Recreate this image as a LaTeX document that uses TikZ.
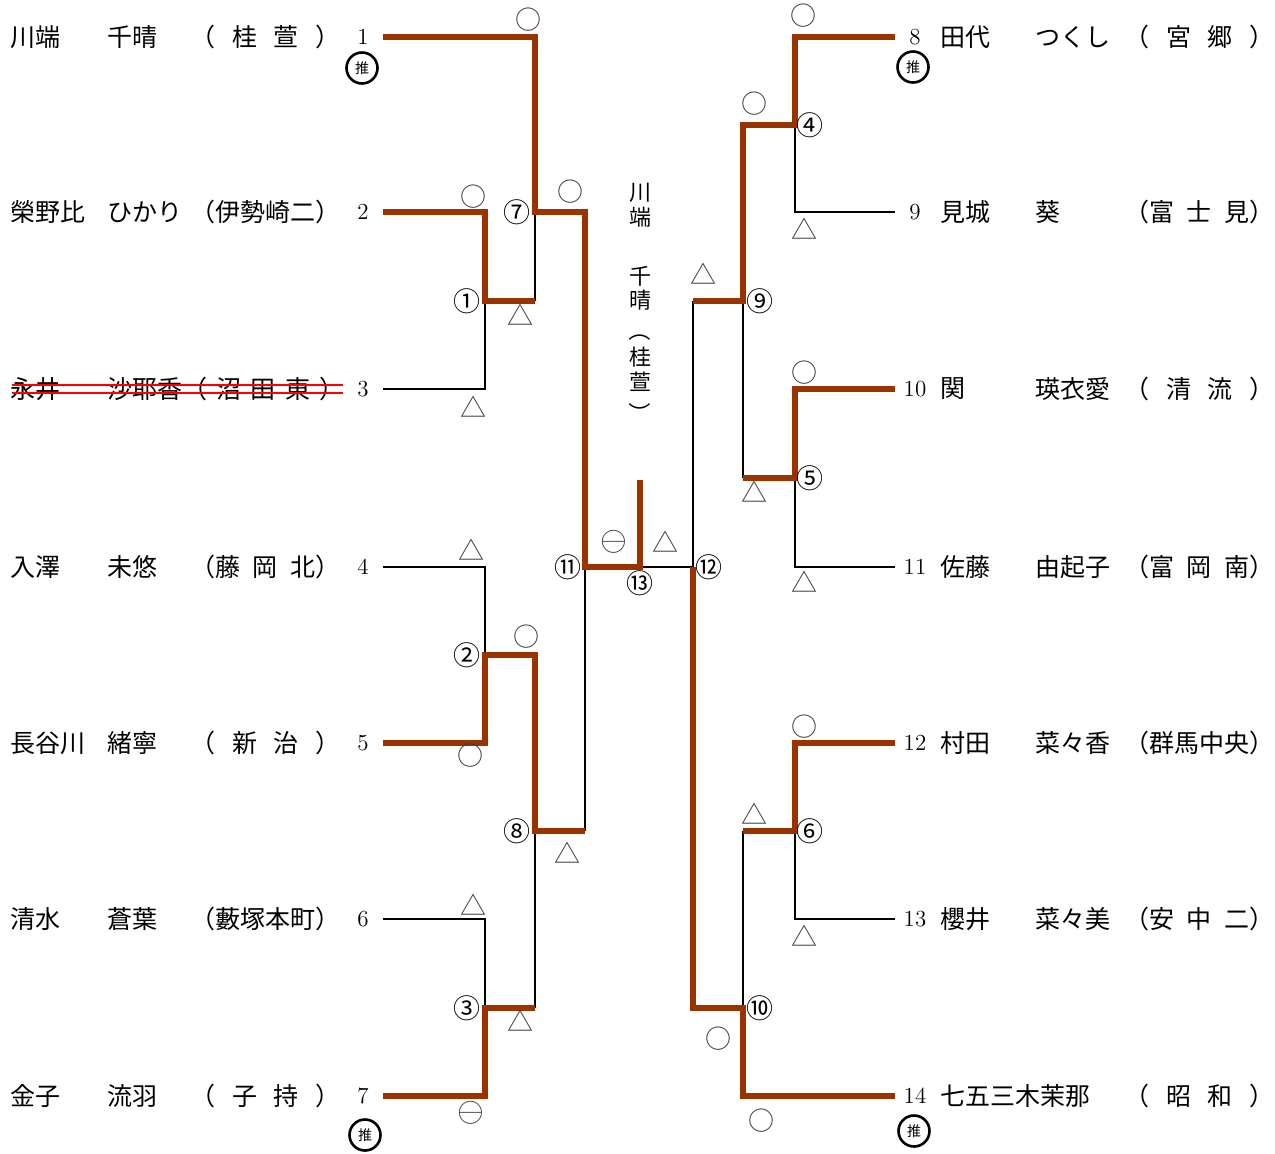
\documentclass[tikz,border=0pt]{standalone}
\usepackage{fontspec}
\usepackage{tikz}
\newfontfamily\jp{Noto Sans CJK JP}
\definecolor{winbrown}{RGB}{153,51,0}
\definecolor{markgray}{RGB}{60,60,60}
\newcommand{\school}[2][75pt]{\hbox to #1{#2}}

\begin{document}
\begin{tikzpicture}
		[
			x=0.5pt, y=-0.5pt,
			win/.style={draw=winbrown, line width=2.75pt},
			lose/.style={draw=black, line width=1pt},
			player/.style={anchor=west, inner sep=0pt, font=\jp\fontsize{12.5}{15}\selectfont},
			num/.style={inner sep=0pt, font=\fontsize{11.5}{14}\selectfont},
			res/.style={inner sep=0pt, text=markgray, font=\jp\fontsize{13}{15}\selectfont},
			rnd/.style={inner sep=0pt, font=\jp\fontsize{13.5}{15}\selectfont},
			seed/.style={circle, draw, line width=1.3pt, minimum size=15.5pt, inner sep=0pt, font=\jp\fontsize{7}{8}\selectfont},
			strike/.style={draw=red, line width=1.3pt},
			vch/.style={inner sep=0pt, font=\jp\fontsize{11}{12.5}\selectfont}
		]

		\useasboundingbox (0,0) rectangle (1275,1153);

		% entry points
		\foreach \i/\y in {1/37,2/212,3/389,4/567,5/743,6/919,7/1096}
		\coordinate (e\i) at (383,\y);
		\foreach \i/\y in {8/37,9/212,10/389,11/567,12/743,13/919,14/1096}
		\coordinate (e\i) at (895,\y);

		% match points
		\coordinate (m1) at (485,301);
		\coordinate (m2) at (485,655);
		\coordinate (m3) at (485,1008);
		\coordinate (m7) at (535,212);
		\coordinate (m8) at (535,831);
		\coordinate (m11) at (585,567);
		\coordinate (m4) at (795,125);
		\coordinate (m5) at (795,478);
		\coordinate (m6) at (795,831);
		\coordinate (m9) at (743,301);
		\coordinate (m10) at (743,1008);
		\coordinate (m12) at (693,567);
		\coordinate (m13) at (640,567);
		\coordinate (top) at (640,480);

		% losing lines
		\foreach \from/\to in {e3/m1,e4/m2,e6/m3,e9/m4,e11/m5,e13/m6}
		\draw[lose] (\from) -| (\to);

		\draw[lose] (m1 -| m7) -- (m7);
		\draw[lose] (m3 -| m8) -- (m8);
		\draw[lose] (m8 -| m11) -- (m11);
		\draw[lose] (m5 -| m9) -- (m9);
		\draw[lose] (m6 -| m10) -- (m10);
		\draw[lose] (m9 -| m12) -- (m12);
		\draw[lose] (m12) -- (m13);

		% winning lines
		\draw[win] (e1) -| (m7) -| (m11) -- (m13) -- (top);
		\draw[win] (e2) -| (m1) -- (m1 -| m7);
		\draw[win] (e5) -| (m2) -| (m8) -- (m8 -| m11);
		\draw[win] (e7) -| (m3) -- (m3 -| m8);
		\draw[win] (e8) -| (m4) -| (m9) -- (m9 -| m12);
		\draw[win] (e10) -| (m5) -- (m5 -| m9);
		\draw[win] (e12) -| (m6) -- (m6 -| m10);
		\draw[win] (e14) -| (m10) -| (m12);

		% players left
		\node[player] (s1) at (10,37) {川端};
		\node[player] (g1) at (107,37) {千晴};
		\node[player] (c1) at (190,37) {\school{（\hfill 桂\hfill 萱\hfill ）}};
		\node[player] (s2) at (10,212) {榮野比};
		\node[player] (g2) at (107,212) {ひかり};
		\node[player] (c2) at (190,212) {\school{（伊勢崎二）}};
		\node[player] (s3) at (10,389) {永井};
		\node[player] (g3) at (107,389) {沙耶香};
		\node[player] (c3) at (182,389) {\school[81pt]{（\hfill 沼\hfill 田\hfill 東\hfill ）}};
		\node[player] (s4) at (10,567) {入澤};
		\node[player] (g4) at (107,567) {未悠};
		\node[player] (c4) at (190,567) {\school{（藤\hfill 岡\hfill 北）}};
		\node[player] (s5) at (10,743) {長谷川};
		\node[player] (g5) at (107,743) {緒寧};
		\node[player] (c5) at (190,743) {\school{（\hfill 新\hfill 治\hfill ）}};
		\node[player] (s6) at (10,919) {清水};
		\node[player] (g6) at (107,919) {蒼葉};
		\node[player] (c6) at (190,919) {\school{（藪塚本町）}};
		\node[player] (s7) at (10,1096) {金子};
		\node[player] (g7) at (107,1096) {流羽};
		\node[player] (c7) at (190,1096) {\school{（\hfill 子\hfill 持\hfill ）}};

		% players right
		\node[player] (s8) at (940,37) {田代};
		\node[player] (g8) at (1035,37) {つくし};
		\node[player] (c8) at (1124,37) {\school{（\hfill 宮\hfill 郷\hfill ）}};
		\node[player] (s9) at (940,212) {見城};
		\node[player] (g9) at (1035,212) {葵};
		\node[player] (c9) at (1124,212) {\school{（富\hfill 士\hfill 見）}};
		\node[player] (s10) at (940,389) {関};
		\node[player] (g10) at (1035,389) {瑛衣愛};
		\node[player] (c10) at (1124,389) {\school{（\hfill 清\hfill 流\hfill ）}};
		\node[player] (s11) at (940,567) {佐藤};
		\node[player] (g11) at (1035,567) {由起子};
		\node[player] (c11) at (1124,567) {\school{（富\hfill 岡\hfill 南）}};
		\node[player] (s12) at (940,743) {村田};
		\node[player] (g12) at (1035,743) {菜々香};
		\node[player] (c12) at (1124,743) {\school{（群馬中央）}};
		\node[player] (s13) at (940,919) {櫻井};
		\node[player] (g13) at (1035,919) {菜々美};
		\node[player] (c13) at (1124,919) {\school{（安\hfill 中\hfill 二）}};
		\node[player] (s14) at (940,1096) {七五三木茉那};
		\node[player] (c14) at (1124,1096) {\school{（\hfill 昭\hfill 和\hfill ）}};

		% withdrawn entry
		\coordinate (k1) at (12,385);
		\coordinate (k2) at (343,385);
		\coordinate (k3) at (12,393);
		\coordinate (k4) at (343,393);
		\draw[strike] (k1) -- (k2);
		\draw[strike] (k3) -- (k4);

		% draw numbers
		\foreach \i/\y in {1/37,2/212,3/389,4/567,5/743,6/919,7/1096}
		\node[num] (n\i) at (363,\y) {\i};
		\foreach \i/\y in {8/37,9/212,10/389,11/567,12/743,13/919,14/1096}
		\node[num] (n\i) at (915,\y) {\i};

		% seeds
		\node[seed] (p1) at (362,68) {推};
		\node[seed] (p7) at (365,1135) {推};
		\node[seed] (p8) at (913,67) {推};
		\node[seed] (p14) at (914,1131) {推};

		% match numbers
		\foreach \name/\x/\y/\t in {r1/467/301/①,r2/467/655/②,r3/467/1008/③,r7/517/212/⑦,r8/517/831/⑧,r11/568/567/⑪,r13/640/583/⑬,r12/709/567/⑫,r4/810/125/④,r5/810/478/⑤,r6/810/831/⑥,r9/760/301/⑨,r10/760/1008/⑩}
		\node[rnd] (\name) at (\x,\y) {\t};

		% results
		\foreach \name/\x/\y/\t in {a1/528/20/○,a2/473/197/○,a3/473/407/△,a4/520/315/△,a5/570/192/○,a6/471/550/△,a7/526/637/○,a8/470/756/○,a9/567/853/△,a10/473/905/△,a11/520/1021/△,a12/665/542/△,a13/703/274/△,a14/803/16/○,a15/754/104/○,a16/804/229/△,a17/804/373/○,a18/754/492/△,a19/804/582/△,a20/804/727/○,a21/754/814/△,a22/804/936/△,a23/718/1039/○,a24/761/1121/○}
		\node[res] (\name) at (\x,\y) {\t};

		\node[res, font=\fontsize{19}{21}\selectfont] (b1) at (471,1113) {$\ominus$};
		\node[res, font=\fontsize{19}{21}\selectfont] (b2) at (614,542) {$\ominus$};

		% champion, written top to bottom
		\foreach \name/\y/\t in {v1/193/川,v2/217/端,v3/276/千,v4/300/晴,v6/357/桂,v7/382/萱}
		\node[vch] (\name) at (640,\y) {\t};
		\node[vch, rotate=-90] (v5) at (640,330) {（};
		\node[vch, rotate=-90] (v8) at (640,413) {）};

	\end{tikzpicture}
\end{document}
